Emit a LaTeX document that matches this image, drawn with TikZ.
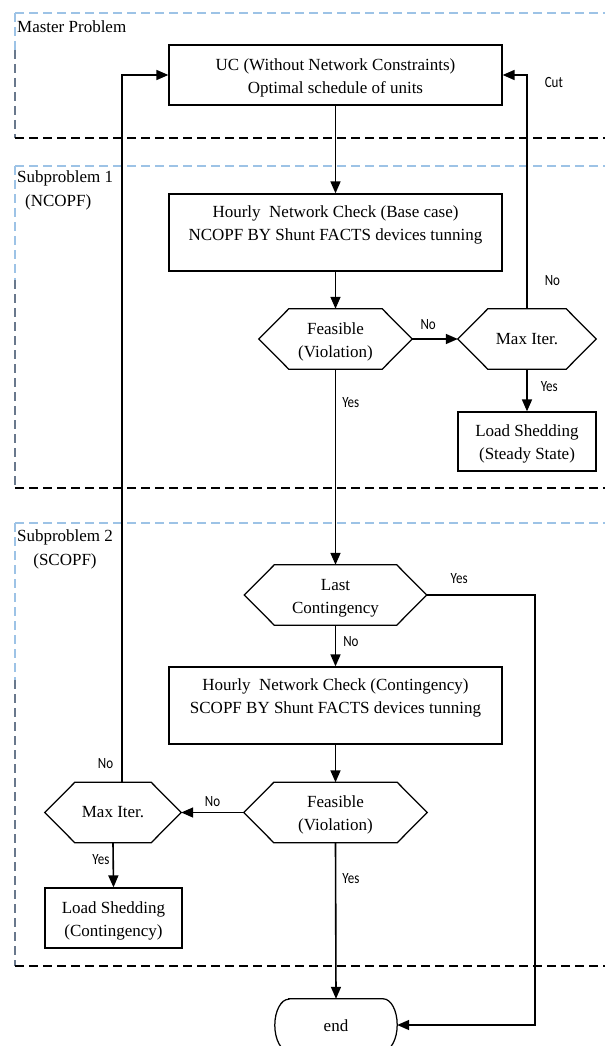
\documentclass[tikz,border=0pt]{standalone}
\usepackage{fontspec}
\usepackage{graphicx}
\setmainfont{Liberation Serif}
\newfontfamily\lblfont{Carlito}
\usetikzlibrary{arrows.meta}
\definecolor{dashblue}{RGB}{157,195,230}
\definecolor{dashgrey}{RGB}{105,120,140}
\newcommand{\lbtext}[1]{\scalebox{1}[1.2]{#1}}
\newcommand{\topfix}{\rule{0pt}{17.5pt}}
\tikzset{
  box/.style={draw, line width=1.25pt, align=center, inner sep=0pt, font=\fontsize{17}{23}\selectfont},
  hexn/.style={align=center, inner sep=0pt, minimum height=60pt, font=\fontsize{17}{23}\selectfont},
  lbl/.style={font=\lblfont\fontsize{13}{15}\selectfont, inner sep=0pt},
  conn/.style={line width=1.6pt, -{Triangle[length=12pt,width=10pt]}},
  bluedash/.style={dashblue, line width=1.1pt, dash pattern=on 9pt off 5pt},
  greydash/.style={dashgrey, line width=1.1pt, dash pattern=on 9pt off 5pt},
  blackdash/.style={black, line width=1.3pt, dash pattern=on 9pt off 5pt},
  grouplbl/.style={font=\fontsize{17}{24}\selectfont, inner sep=0pt}
}
\newcommand{\hexpath}[2]{%
  \draw[line width=1.25pt] (#1.west) -- ([xshift=#2]#1.north west) -- ([xshift=-#2]#1.north east) -- (#1.east) -- ([xshift=-#2]#1.south east) -- ([xshift=#2]#1.south west) -- cycle;}
\begin{document}
\begin{tikzpicture}[x=1pt,y=-1pt]
\useasboundingbox (0,0) rectangle (605,1046);
% containers
\draw[bluedash] (15,13) -- (605,13);
\draw[bluedash] (15,13) -- (15,50);
\draw[greydash] (15,50) -- (15,138);
\draw[blackdash] (15,138) -- (605,138);
\draw[bluedash] (15,166) -- (605,166);
\draw[bluedash] (15,166) -- (15,280);
\draw[greydash] (15,280) -- (15,488);
\draw[blackdash] (15,488) -- (605,488);
\draw[bluedash] (15,523) -- (605,523);
\draw[bluedash] (15,523) -- (15,680);
\draw[greydash] (15,680) -- (15,966);
\draw[blackdash] (15,966) -- (605,966);
\node[grouplbl, anchor=west] (mp) at (17,27) {Master Problem};
\node[grouplbl, align=left, anchor=west] (s1) at (17,190) {Subproblem 1\\\hspace*{8pt}(NCOPF)};
\node[grouplbl, align=center] (s2) at (65,549.5) {Subproblem 2\\(SCOPF)};
% nodes
\node[box, minimum width=333pt, minimum height=60pt] (uc) at (335.5,75) {\topfix UC (Without Network Constraints)\\Optimal schedule of units};
\node[box, minimum width=333pt, minimum height=77pt] (h1) at (335.5,232.5) {\topfix Hourly\ \ Network Check (Base case)\\NCOPF BY Shunt FACTS devices tunning\\[-6pt]\strut};
\node[hexn, minimum width=153pt] (f1) at (335.5,339) {\topfix Feasible\\(Violation)};
\hexpath{f1}{30pt}
\node[hexn, minimum width=138pt] (m1) at (527,339) {Max Iter.};
\hexpath{m1}{30pt}
\node[box, minimum width=138pt, minimum height=59pt] (ls1) at (527,441.5) {\topfix Load Shedding\\(Steady State)};
\node[hexn, minimum width=182pt] (lc) at (335.5,595) {\topfix Last\\Contingency};
\hexpath{lc}{30pt}
\node[box, minimum width=333pt, minimum height=77pt] (h2) at (335.5,705.5) {\topfix Hourly\ \ Network Check (Contingency)\\SCOPF BY Shunt FACTS devices tunning\\[-6pt]\strut};
\node[hexn, minimum width=183pt] (f2) at (335.5,812.5) {\topfix Feasible\\(Violation)};
\hexpath{f2}{30pt}
\node[hexn, minimum width=136pt] (m2) at (113,812.5) {Max Iter.};
\hexpath{m2}{30pt}
\node[box, minimum width=137pt, minimum height=60pt] (ls2) at (113.5,918) {\topfix Load Shedding\\(Contingency)};
\node[align=center, inner sep=0pt, minimum width=122pt, minimum height=52pt, font=\fontsize{17}{23}\selectfont] (end) at (336,1025) {\rule{0pt}{14pt}end};
\draw[line width=1.25pt] ([xshift=14pt]end.north west) -- ([xshift=-14pt]end.north east)
  arc[start angle=90, end angle=-90, x radius=14pt, y radius=26pt]
  -- ([xshift=14pt]end.south west)
  arc[start angle=270, end angle=90, x radius=14pt, y radius=26pt] -- cycle;
% connectors
\draw[conn] (uc.south) -- (h1.north);
\draw[conn] (h1.south) -- (f1.north);
\draw[conn] (f1.east) -- node[lbl, pos=0.35, above=9pt]{\lbtext{No}} (m1.west);
\draw[conn] (m1.south) -- node[lbl, pos=0.4, right=13pt]{\lbtext{Yes}} (ls1.north);
\draw[conn] (m1.north) |- node[lbl, pos=0.06, right=17pt]{\lbtext{No}} node[lbl, pos=0.485, right=17pt]{\lbtext{Cut}} (uc.east);
\draw[conn] (f1.south) -- node[lbl, pos=0.17, right=6pt]{\lbtext{Yes}} (lc.north);
\draw[conn] (lc.east) -- node[lbl, pos=0.3, above=11pt]{\lbtext{Yes}} ++(108,0) |- (end.east);
\draw[conn] (lc.south) -- node[lbl, pos=0.4, right=7pt]{\lbtext{No}} (h2.north);
\draw[conn] (h2.south) -- (f2.north);
\draw[conn] (f2.west) -- node[lbl, pos=0.5, above=5pt]{\lbtext{No}} (m2.east);
\draw[conn] (m2.south) -- node[lbl, pos=0.37, left=3pt]{\lbtext{Yes}} (ls2.north);
\draw[conn] ([xshift=9pt]m2.north) |- node[lbl, pos=0.013, left=8pt]{\lbtext{No}} (uc.west);
\draw[conn] (f2.south) -- node[lbl, pos=0.23, right=6pt]{\lbtext{Yes}} (end.north);
\end{tikzpicture}
\end{document}
